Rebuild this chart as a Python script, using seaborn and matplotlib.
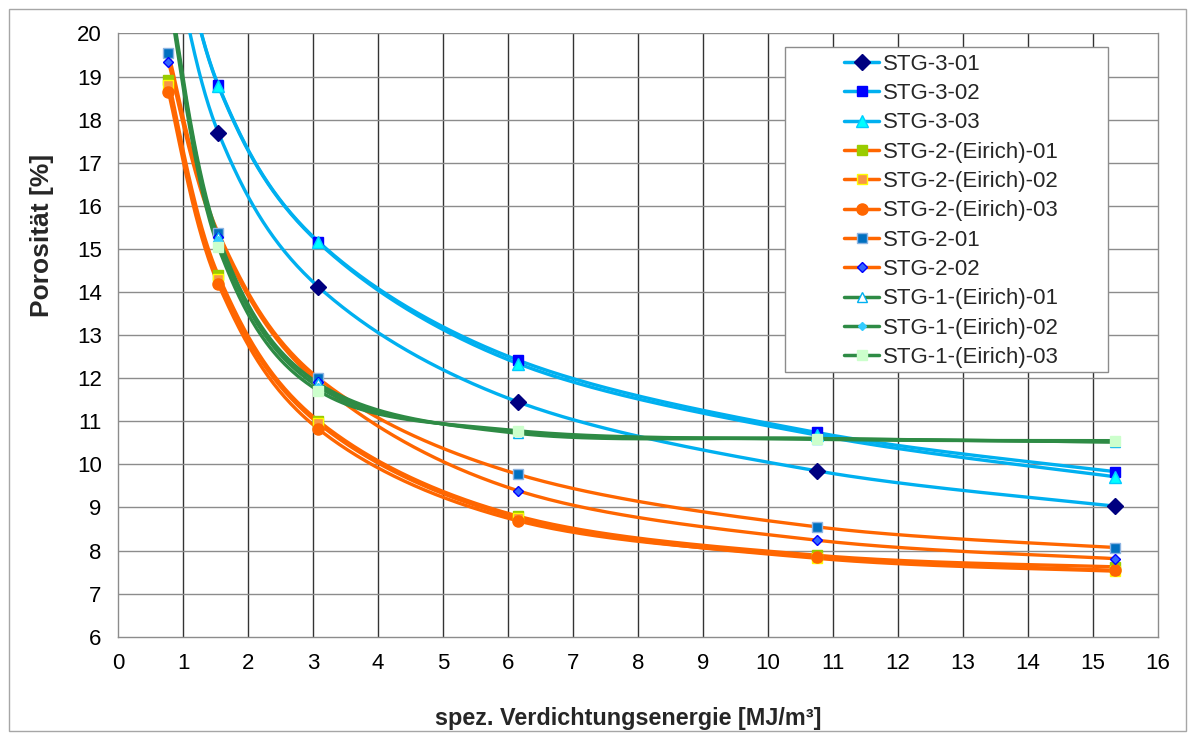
import numpy as np
import pandas as pd
import matplotlib
matplotlib.use("Agg")
import matplotlib.pyplot as plt
import seaborn as sns
from matplotlib.lines import Line2D
from matplotlib.patches import Rectangle

# ---------------- data ----------------
energy = [0.77, 1.54, 3.08, 6.15, 10.75, 15.35]

series_names = ["STG-3-01", "STG-3-02", "STG-3-03",
                "STG-2-(Eirich)-01", "STG-2-(Eirich)-02", "STG-2-(Eirich)-03",
                "STG-2-01", "STG-2-02",
                "STG-1-(Eirich)-01", "STG-1-(Eirich)-02", "STG-1-(Eirich)-03"]

stg3_01 = [22.5, 17.70, 14.12, 11.45, 9.85, 9.03]
stg3_02 = [23.6, 18.80, 15.17, 12.42, 10.74, 9.83]
stg3_03 = [23.6, 18.78, 15.15, 12.34, 10.68, 9.71]
stg2e_01 = [18.92, 14.39, 11.01, 8.80, 7.89, 7.62]
stg2e_02 = [18.80, 14.30, 10.95, 8.75, 7.82, 7.52]
stg2e_03 = [18.65, 14.18, 10.82, 8.69, 7.85, 7.54]
stg2_01 = [19.54, 15.37, 12.00, 9.77, 8.55, 8.07]
stg2_02 = [19.35, 15.28, 11.90, 9.39, 8.24, 7.81]
stg1e_01 = [21.1, 15.27, 11.88, 10.72, 10.60, 10.52]
stg1e_02 = [21.0, 15.20, 11.80, 10.75, 10.60, 10.52]
stg1e_03 = [20.9, 15.04, 11.71, 10.78, 10.58, 10.55]

values = [stg3_01, stg3_02, stg3_03, stg2e_01, stg2e_02, stg2e_03,
          stg2_01, stg2_02, stg1e_01, stg1e_02, stg1e_03]

x_ticks = list(range(0, 17))
y_ticks = list(range(6, 21))

# ---------------- styles ----------------
C3, C2, C1 = "#00B0F0", "#FF6600", "#2E8B45"
styles = [
    dict(lc=C3, m="D", ms=8, mfc="#000080", mec="#000080"),
    dict(lc=C3, m="s", ms=7, mfc="#0000FF", mec="#0000FF"),
    dict(lc=C3, m="^", ms=8, mfc="#00FFFF", mec="#00CCFF"),
    dict(lc=C2, m="s", ms=7, mfc="#99CC00", mec="#99CC00"),
    dict(lc=C2, m="s", ms=7, mfc="#F79646", mec="#FFFF00"),
    dict(lc=C2, m="o", ms=8, mfc="#FF6600", mec="#FF6600"),
    dict(lc=C2, m="s", ms=7, mfc="#0070C0", mec="#8DB4E2"),
    dict(lc=C2, m="D", ms=5.5, mfc="#3366FF", mec="#0000FF"),
    dict(lc=C1, m="^", ms=7, mfc="white", mec="#00B0F0"),
    dict(lc=C1, m="D", ms=4.5, mfc="#33CCFF", mec="#33CCFF"),
    dict(lc=C1, m="s", ms=7, mfc="#CCFFCC", mec="#CCFFCC"),
]


def smooth(xs, ys, sx, sy, n=60):
    """Excel-like smoothed line (Catmull-Rom Bezier) through the data points."""
    P = np.column_stack([np.asarray(xs) * sx, np.asarray(ys) * sy])
    out = []
    for i in range(len(P) - 1):
        p0 = P[i - 1] if i > 0 else P[i]
        p1, p2 = P[i], P[i + 1]
        p3 = P[i + 2] if i + 2 < len(P) else P[i + 1]
        c1 = p1 + (p2 - p0) / 6.0
        c2 = p2 - (p3 - p1) / 6.0
        t = np.linspace(0, 1, n)[:, None]
        seg = ((1 - t) ** 3) * p1 + 3 * ((1 - t) ** 2) * t * c1 + 3 * (1 - t) * t ** 2 * c2 + t ** 3 * p2
        out.append(seg if i == 0 else seg[1:])
    S = np.vstack(out)
    return S[:, 0] / sx, S[:, 1] / sy


sns.set_theme(style="white")
plt.rcParams["font.family"] = ["Liberation Sans", "DejaVu Sans"]

fig = plt.figure(figsize=(11.92, 7.35), dpi=100)
fig.patch.set_facecolor("white")
ax = fig.add_axes([118.3 / 1192, 1 - 636.7 / 735, 1039.4 / 1192, 603.2 / 735])

# figure border
fig.patches.append(Rectangle((9 / 1192, 1 - 731 / 735), 1177 / 1192, 722 / 735,
                             transform=fig.transFigure, fill=False,
                             edgecolor="#A6A6A6", linewidth=1.0, zorder=0))

sx, sy = 1039.4 / 16.0, 603.2 / 14.0
lw = 2.4
for name, vals, st in zip(series_names, values, styles):
    xs_s, ys_s = smooth(energy, vals, sx, sy)
    df = pd.DataFrame({"x": xs_s, "y": ys_s})
    sns.lineplot(data=df, x="x", y="y", ax=ax, color=st["lc"], linewidth=lw,
                 sort=False, estimator=None, legend=False, zorder=3)
for name, vals, st in zip(series_names, values, styles):
    ax.plot(energy, vals, linestyle="none", marker=st["m"], markersize=st["ms"],
            markerfacecolor=st["mfc"], markeredgecolor=st["mec"],
            markeredgewidth=1.0, zorder=4)

ax.set_xlim(0, 16)
ax.set_ylim(6, 20)
ax.set_xticks(x_ticks)
ax.set_yticks(y_ticks)
ax.set_xticklabels([str(v) for v in x_ticks], fontsize=16)
ax.set_yticklabels([str(v) for v in y_ticks], fontsize=16)
ax.tick_params(axis="both", which="major", length=6, width=1,
               direction="out", pad=6, colors="#888888", labelcolor="black")

# gridlines
for v in x_ticks[1:-1]:
    ax.axvline(v, color="#333333", linewidth=1.0, zorder=1)
for v in y_ticks[1:]:
    ax.axhline(v, color="#8C8C8C", linewidth=1.0, zorder=1)

for side in ["left", "bottom", "right", "top"]:
    ax.spines[side].set_color("#8C8C8C")
    ax.spines[side].set_linewidth(1.0)
ax.spines["top"].set_visible(False)

ax.set_xlabel("spez. Verdichtungsenergie [MJ/m³]", fontsize=16.8, fontweight="bold")
ax.set_ylabel("Porosität [%]", fontsize=19, fontweight="bold")
ax.xaxis.set_label_coords(0.491, -0.116)
ax.yaxis.set_label_coords(-0.062, 0.666)

# legend frame + legend
ax.add_patch(Rectangle((0.6414, 0.4388), 0.9522 - 0.6414, 0.9771 - 0.4388,
                       transform=ax.transAxes, facecolor="white",
                       edgecolor="#8C8C8C", linewidth=1.0, zorder=6))
handles = [Line2D([0], [0], color=st["lc"], linewidth=2.5, marker=st["m"],
                  markersize=st["ms"], markerfacecolor=st["mfc"],
                  markeredgecolor=st["mec"]) for st in styles]
leg = ax.legend(handles, series_names, loc="upper left",
                bbox_to_anchor=(0.698, 0.9665), frameon=False, fontsize=16,
                handlelength=1.6, handletextpad=0.15, labelspacing=0.375,
                borderpad=0, borderaxespad=0)
leg.set_zorder(7)

fig.savefig("out.png", dpi=100)
